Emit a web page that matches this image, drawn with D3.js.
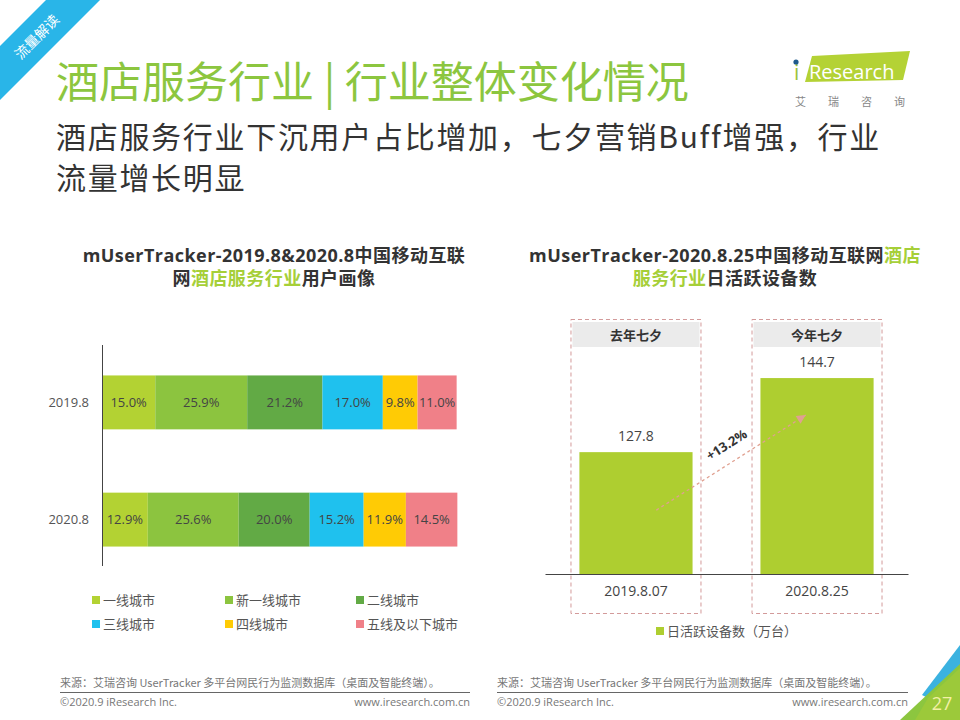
<!DOCTYPE html>
<html>
<head>
<meta charset="utf-8">
<script src="https://cdn.jsdelivr.net/npm/d3@7"></script>
<style>
  html, body { margin: 0; padding: 0; background: #fff; }
  svg { display: block; font-family: "Open Sans", "Noto Sans CJK SC", sans-serif; }
</style>
</head>
<body>
<svg id="slide" width="960" height="720"></svg>
<script>
// data
const years = ['2019.8', '2020.8'];
const tiers = ['一线城市', '新一线城市', '二线城市', '三线城市', '四线城市', '五线及以下城市'];
const share2019 = [15.0, 25.9, 21.2, 17.0, 9.8, 11.0];
const share2020 = [12.9, 25.6, 20.0, 15.2, 11.9, 14.5];
const tierColors = ['#b3d233', '#8cc43f', '#62aa45', '#1fc1ee', '#ffcb05', '#f08088'];

const dayLabels = ['2019.8.07', '2020.8.25'];
const dayTags = ['去年七夕', '今年七夕'];
const dauValues = [127.8, 144.7];
const growthLabel = '+13.2%';

const svg = d3.select('#slide');
const green = '#8cc63f';
const cjk = '"Noto Sans CJK SC", sans-serif';

// corner ribbon
svg.append('path').attr('d', 'M0,46 L46,0 L100,0 L0,100 Z').attr('fill', '#29b5e8');
svg.append('text')
  .attr('transform', 'translate(37,37) rotate(-45)')
  .attr('text-anchor', 'middle').attr('dy', '0.35em')
  .attr('font-family', cjk).attr('font-size', 14).attr('fill', '#fff')
  .text('流量解读');

// title block
svg.append('text').attr('x', 56).attr('y', 98)
  .attr('font-family', cjk).attr('font-size', 43).attr('fill', green)
  .text('酒店服务行业 | 行业整体变化情况');
['酒店服务行业下沉用户占比增加，七夕营销Buff增强，行业', '流量增长明显'].forEach((line, i) => {
  svg.append('text').attr('x', 56).attr('y', 148 + i * 41)
    .attr('font-family', cjk).attr('font-size', 30).attr('letter-spacing', 1.7).attr('fill', '#333')
    .text(line);
});

// logo
svg.append('path').attr('d', 'M812,56 L910,51 L903,80 L805,82 Z').attr('fill', '#b4d235');
svg.append('text').attr('x', 794).attr('y', 80)
  .attr('font-family', 'Open Sans, sans-serif').attr('font-size', 21).attr('fill', '#9cc33b')
  .text('i');
svg.append('circle').attr('cx', 796).attr('cy', 62).attr('r', 2.6).attr('fill', '#1f5a8c');
svg.append('text').attr('x', 809).attr('y', 79)
  .attr('font-family', 'Open Sans, sans-serif').attr('font-size', 20).attr('fill', '#fff')
  .text('Research');
svg.append('text').attr('x', 795).attr('y', 106)
  .attr('font-family', cjk).attr('font-size', 11).attr('fill', '#888')
  .attr('letter-spacing', 22)
  .text('艾瑞咨询');

// chart titles
function chartTitle(cx, lines) {
  lines.forEach((parts, i) => {
    const t = svg.append('text').attr('x', cx).attr('y', 262 + i * 23)
      .attr('text-anchor', 'middle').attr('font-size', 18).attr('font-weight', 'bold')
      .attr('letter-spacing', 0.45)
      .attr('font-family', '"Open Sans", "Noto Sans CJK SC", sans-serif');
    parts.forEach(p => t.append('tspan').attr('fill', p[1] ? '#a6cf38' : '#333').text(p[0]));
  });
}
chartTitle(274, [[['mUserTracker-2019.8&2020.8中国移动互联']], [['网'], ['酒店服务行业', 1], ['用户画像']]]);
chartTitle(725, [[['mUserTracker-2020.8.25中国移动互联网'], ['酒店', 1]], [['服务行业', 1], ['日活跃设备数']]]);

// ---- left: stacked 100% bars
const x = d3.scaleLinear().domain([0, 100]).range([102, 457]);
const y = d3.scaleBand().domain(years).range([352, 570]).paddingInner(0.54).paddingOuter(0.2);

const rows = [share2019, share2020].map((vals, r) => {
  let acc = 0;
  return vals.map((v, i) => {
    const seg = { year: years[r], tier: i, v, x0: acc, x1: acc + v };
    acc += v;
    return seg;
  });
});

const left = svg.append('g');
rows.forEach(row => {
  const g = left.append('g');
  g.selectAll('rect').data(row).enter().append('rect')
    .attr('x', d => x(d.x0)).attr('width', d => x(d.x1) - x(d.x0))
    .attr('y', d => y(d.year)).attr('height', y.bandwidth())
    .attr('fill', d => tierColors[d.tier]);
  g.selectAll('text').data(row).enter().append('text')
    .attr('x', d => (x(d.x0) + x(d.x1)) / 2)
    .attr('y', d => y(d.year) + y.bandwidth() / 2)
    .attr('dy', '0.35em').attr('text-anchor', 'middle')
    .attr('font-size', 13).attr('fill', '#444')
    .text(d => d.v.toFixed(1) + '%');
});
const yAxis = left.append('g').attr('transform', 'translate(102,0)')
  .call(d3.axisLeft(y).tickSize(0).tickPadding(13));
yAxis.select('.domain').remove();
yAxis.selectAll('text').attr('font-size', 13).attr('fill', '#555')
  .attr('font-family', '"Open Sans", sans-serif');
left.append('line').attr('x1', 102.5).attr('x2', 102.5).attr('y1', 345).attr('y2', 566)
  .attr('stroke', '#444');

// left legend
const leg = svg.append('g');
tiers.forEach((t, i) => {
  const lx = [92, 225, 356][i % 3];
  const ly = 600 + Math.floor(i / 3) * 24;
  leg.append('rect').attr('x', lx).attr('y', ly - 4).attr('width', 8).attr('height', 8).attr('fill', tierColors[i]);
  leg.append('text').attr('x', lx + 11).attr('y', ly).attr('dy', '0.35em')
    .attr('font-family', cjk).attr('font-size', 13).attr('fill', '#555').text(t);
});

// ---- right: daily active devices
const xb = d3.scaleBand().domain(dayLabels).range([545, 908]).paddingInner(0.375).paddingOuter(0.19);
const yb = d3.scaleLinear().domain([100, 160]).range([574, 311]);

const right = svg.append('g');
dayLabels.forEach((d, i) => {
  const cx = xb(d) + xb.bandwidth() / 2;
  const box = { x: cx - 65, w: 130 };
  right.append('rect').attr('x', box.x).attr('y', 319.5).attr('width', box.w).attr('height', 294)
    .attr('fill', 'none').attr('stroke', '#d39a9a').attr('stroke-dasharray', '4,3');
  right.append('rect').attr('x', box.x + 1.5).attr('y', 322).attr('width', box.w - 3).attr('height', 25)
    .attr('fill', '#ebebeb');
  right.append('text').attr('x', cx).attr('y', 335).attr('dy', '0.35em')
    .attr('text-anchor', 'middle').attr('font-family', cjk).attr('font-size', 13)
    .attr('font-weight', 'bold').attr('fill', '#333').text(dayTags[i]);
});
right.selectAll('.bar').data(dauValues).enter().append('rect')
  .attr('x', (v, i) => xb(dayLabels[i])).attr('width', xb.bandwidth())
  .attr('y', v => yb(v)).attr('height', v => yb(100) - yb(v))
  .attr('fill', '#aece30');
right.selectAll('.val').data(dauValues).enter().append('text')
  .attr('x', (v, i) => xb(dayLabels[i]) + xb.bandwidth() / 2)
  .attr('y', v => yb(v) - 16).attr('dy', '0.35em').attr('text-anchor', 'middle')
  .attr('font-size', 14).attr('fill', '#444').text(v => v.toFixed(1));
const xAxis = right.append('g').attr('transform', 'translate(0,574)')
  .call(d3.axisBottom(xb).tickSize(0).tickPadding(12).tickSizeOuter(0));
xAxis.select('.domain').attr('stroke', '#444');
xAxis.selectAll('text').attr('font-size', 14).attr('fill', '#444')
  .attr('font-family', '"Open Sans", sans-serif');

// growth arrow
const ax0 = xb(dayLabels[0]) + xb.bandwidth() * 0.68, ay0 = yb(dauValues[0]) + 58;
const ax1 = xb(dayLabels[1]) + xb.bandwidth() * 0.4, ay1 = yb(dauValues[1]) + 37;
right.append('line').attr('x1', ax0).attr('y1', ay0).attr('x2', ax1).attr('y2', ay1)
  .attr('stroke', '#e0a090').attr('stroke-width', 1.3).attr('stroke-dasharray', '3,3');
const ang = Math.atan2(ay1 - ay0, ax1 - ax0) * 180 / Math.PI;
right.append('path').attr('d', 'M0,0 L-9,-4.5 L-9,4.5 Z')
  .attr('transform', `translate(${ax1},${ay1}) rotate(${ang})`).attr('fill', '#e0a090');
right.append('text')
  .attr('transform', `translate(${(ax0 + ax1) / 2 - 2},${(ay0 + ay1) / 2 - 14}) rotate(${ang})`)
  .attr('text-anchor', 'middle').attr('font-size', 13).attr('font-weight', 'bold').attr('fill', '#333')
  .text(growthLabel);

// right legend
svg.append('rect').attr('x', 656).attr('y', 627).attr('width', 8).attr('height', 8).attr('fill', '#aece30');
svg.append('text').attr('x', 667).attr('y', 631).attr('dy', '0.35em')
  .attr('font-family', cjk).attr('font-size', 13).attr('fill', '#555').text('日活跃设备数（万台）');

// footers
function footer(x0, x1) {
  svg.append('text').attr('x', x0).attr('y', 687).attr('font-family', cjk).attr('font-size', 11).attr('fill', '#777')
    .text('来源：艾瑞咨询 UserTracker 多平台网民行为监测数据库（桌面及智能终端）。');
  svg.append('line').attr('x1', x0).attr('x2', x1).attr('y1', 692.5).attr('y2', 692.5).attr('stroke', '#666');
  svg.append('text').attr('x', x0).attr('y', 706).attr('font-size', 11).attr('fill', '#777')
    .text('©2020.9 iResearch Inc.');
  svg.append('text').attr('x', x1).attr('y', 706).attr('text-anchor', 'end').attr('font-size', 11).attr('fill', '#777')
    .text('www.iresearch.com.cn');
}
footer(60, 470);
footer(497, 908);

// bottom-right corner
svg.append('path').attr('d', 'M960,645 L960,668 L928,698 L922,695 Z').attr('fill', '#3bb2e0');
svg.append('path').attr('d', 'M960,664 L960,720 L900,720 Z').attr('fill', '#8cc63f');
svg.append('path').attr('d', 'M928,698 L960,668 L960,720 L915,720 Z').attr('fill', '#9cc93a');
svg.append('text').attr('x', 942).attr('y', 710).attr('text-anchor', 'middle')
  .attr('font-size', 18).attr('fill', '#f3f0a6').text('27');
</script>
</body>
</html>
